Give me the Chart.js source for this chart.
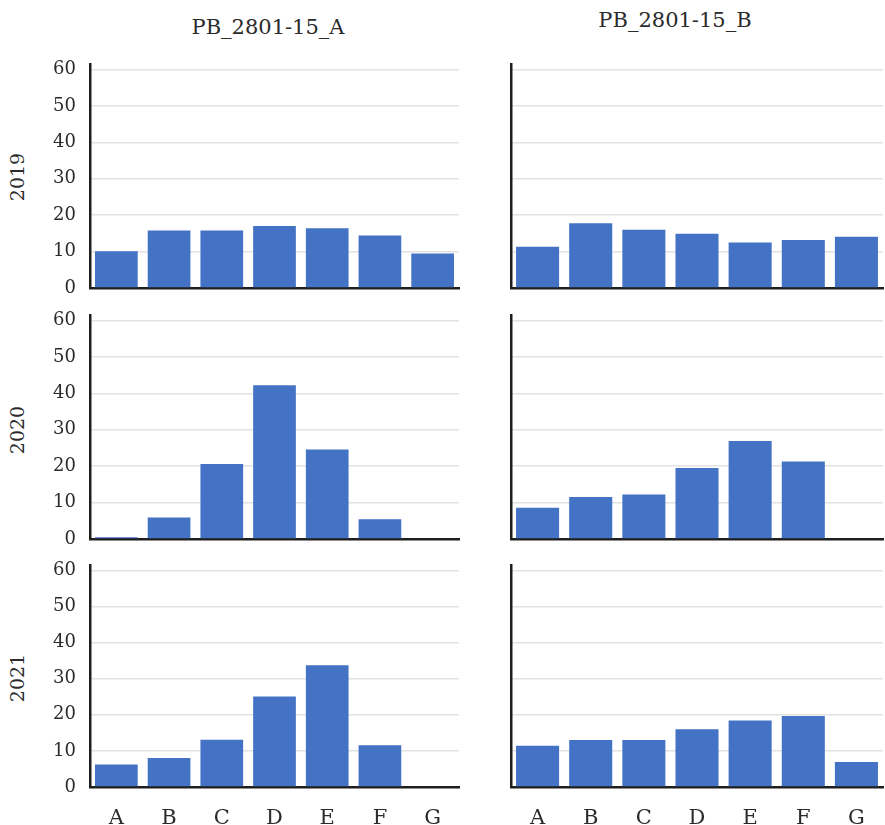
<!DOCTYPE html>
<html>
<head>
<meta charset="utf-8">
<script src="https://cdn.jsdelivr.net/npm/chart.js@4"></script>
<style>
  html, body { margin: 0; padding: 0; background: #fff; }
  #wrap { position: relative; width: 885px; height: 825px; overflow: hidden; font-family: "DejaVu Serif", serif; color: #2b2b2b; }
  .panel { position: absolute; }
  .coltitle { position: absolute; font-size: 21px; white-space: nowrap; transform: translate(-50%, -50%); }
  .rowlabel { position: absolute; font-size: 19px; white-space: nowrap; transform: translate(-50%, -50%) rotate(-90deg); }
</style>
</head>
<body>
<div id="wrap">
  <div class="coltitle" style="left:268px; top:27px;">PB_2801-15_A</div>
  <div class="coltitle" style="left:675px; top:20px;">PB_2801-15_B</div>
  <div class="rowlabel" style="left:17px; top:177px;">2019</div>
  <div class="rowlabel" style="left:17px; top:430px;">2020</div>
  <div class="rowlabel" style="left:17px; top:678px;">2021</div>
</div>
<script>
// ─── Data ─────────────────────────────────────────────────────────────────────
const CATEGORIES = ["A", "B", "C", "D", "E", "F", "G"];
const Y_TICKS = [0, 10, 20, 30, 40, 50, 60];

const A_2019 = [10.1, 15.8, 15.8, 17.0, 16.4, 14.4, 9.5];
const B_2019 = [11.3, 17.8, 16.0, 14.9, 12.5, 13.2, 14.1];
const A_2020 = [0.5, 5.9, 20.6, 42.2, 24.6, 5.4, 0];
const B_2020 = [8.6, 11.5, 12.2, 19.5, 26.9, 21.3, 0];
const A_2021 = [6.2, 8.0, 13.1, 25.1, 33.7, 11.6, 0];
const B_2021 = [11.4, 13.0, 13.0, 16.0, 18.4, 19.7, 6.9];

const FONT = "'DejaVu Serif', serif";
const INK = "#2b2b2b";
const BAR = "#4472c4";

// ─── Panels ───────────────────────────────────────────────────────────────────
// canvases overlap a little so the 60 / 0 tick labels are not clipped
function makePanel(values, opts) {
  const wrap = document.getElementById("wrap");
  const div = document.createElement("div");
  div.className = "panel";
  div.style.left = opts.x + "px";
  div.style.top = opts.y + "px";
  div.style.width = opts.w + "px";
  div.style.height = opts.h + "px";
  const cv = document.createElement("canvas");
  div.appendChild(cv);
  wrap.appendChild(div);

  new Chart(cv, {
    type: "bar",
    data: {
      labels: CATEGORIES,
      datasets: [{ data: values, backgroundColor: BAR, barPercentage: 0.81, categoryPercentage: 1 }],
    },
    options: {
      responsive: true, maintainAspectRatio: false, animation: false,
      layout: { padding: { top: 12, right: opts.padRight, bottom: opts.showX ? 0 : 12, left: 0 } },
      plugins: { legend: { display: false }, tooltip: { enabled: false } },
      scales: {
        x: {
          grid: { display: false },
          border: { display: true, color: "#1e1e1e", width: 2.5 },
          ticks: { display: opts.showX, color: INK, font: { size: 21, family: FONT }, padding: 11, maxRotation: 0 },
          afterFit: s => { s.height = opts.showX ? 38 : 0; s.paddingLeft = 0; s.paddingRight = 0; },
        },
        y: {
          min: 0, max: 61.5,
          afterBuildTicks: s => { s.ticks = Y_TICKS.map(v => ({ value: v })); },
          grid: { color: "#e2e2e2", lineWidth: 1.5, drawTicks: false },
          border: { display: true, color: "#1e1e1e", width: 2.5 },
          ticks: { display: opts.showY, color: INK, font: { size: 18, family: FONT }, padding: 14 },
          afterFit: s => { s.width = opts.axisW; s.paddingTop = 0; s.paddingBottom = 0; },
        },
      },
    },
  });
}

const LEFT  = { x: 0,   w: 460, axisW: 90, padRight: 1, showY: true };
const RIGHT = { x: 460, w: 425, axisW: 51, padRight: 2, showY: false };

makePanel(A_2019, { ...LEFT,  y: 52,  h: 248, showX: false });
makePanel(B_2019, { ...RIGHT, y: 52,  h: 248, showX: false });
makePanel(A_2020, { ...LEFT,  y: 303, h: 248, showX: false });
makePanel(B_2020, { ...RIGHT, y: 303, h: 248, showX: false });
makePanel(A_2021, { ...LEFT,  y: 553, h: 272, showX: true });
makePanel(B_2021, { ...RIGHT, y: 553, h: 272, showX: true });
</script>
</body>
</html>
